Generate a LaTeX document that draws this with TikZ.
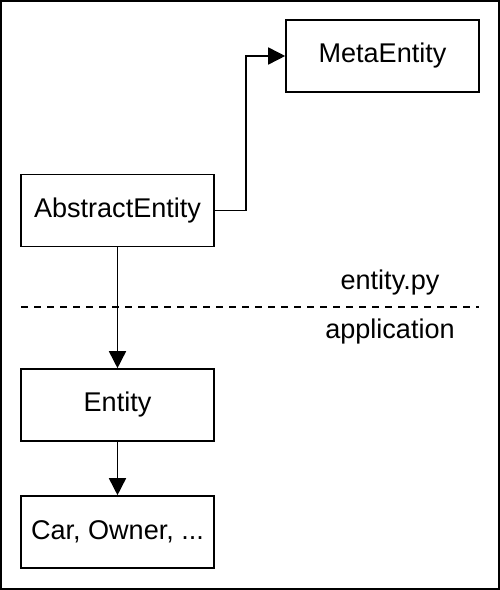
\documentclass[tikz,border=0pt]{standalone}
\usepackage{fontspec}
\setmainfont{Liberation Sans}
\usetikzlibrary{arrows.meta}
\begin{document}
\begin{tikzpicture}[
        box/.style={draw, line width=0.9pt, minimum width=3.86cm, minimum height=1.44cm, inner sep=0pt, font=\fontsize{15.4}{18}\selectfont},
        lbl/.style={font=\fontsize{15.4}{18}\selectfont},
        link/.style={line width=0.9pt, -{Triangle[length=0.34cm,width=0.34cm]}}
    ]
                    \useasboundingbox (0,0) rectangle (10,11.8);
                    \draw[line width=1.1pt] (0.02,0.02) rectangle (9.98,11.78);

                    \node [box] (ME) at (7.65,10.68) {MetaEntity};
                    \node [box] (AE) at (2.35,7.59) {AbstractEntity};
                    \node [box] (E)  at (2.35,3.70) {Entity};
                    \node [box] (CO) at (2.35,1.16) {Car, Owner, ...};

                    \coordinate (SL) at (0.42,5.66);
                    \coordinate (TL) at (9.58,5.66);
                    \node [lbl] (PY)  at (7.8,6.14) {entity.py};
                    \node [lbl] (APP) at (7.8,5.16) {application};

                    \draw[line width=0.9pt, dash pattern=on 4pt off 3.4pt] (SL) -- (TL);

                    \draw[link] (AE.east) -- ++(0.62,0) |- (ME.west);
                    \draw[link] (AE) -- (E);
                    \draw[link] (E) -- (CO);

                \end{tikzpicture}
\end{document}
